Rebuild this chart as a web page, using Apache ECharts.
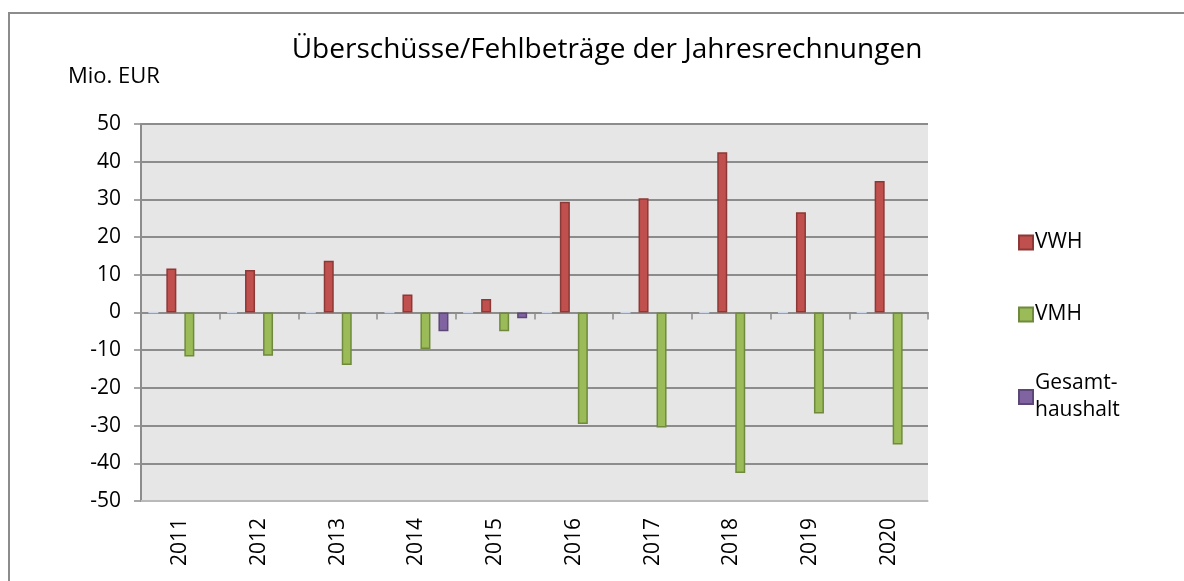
<!DOCTYPE html>
<html>
<head>
<meta charset="utf-8">
<script src="https://cdn.jsdelivr.net/npm/echarts@6/dist/echarts.min.js"></script>
<style>
  html, body { margin: 0; padding: 0; background: #fff; }
  #chart { width: 1184px; height: 581px; }
</style>
</head>
<body>
<div id="chart"></div>
<script>
const years = ['2011', '2012', '2013', '2014', '2015', '2016', '2017', '2018', '2019', '2020'];
const vwh = [11.7, 11.3, 13.7, 4.8, 3.6, 29.4, 30.3, 42.5, 26.6, 34.9];
const vmh = [-11.7, -11.5, -13.9, -9.7, -5.0, -29.6, -30.5, -42.6, -26.8, -35.0];
const gesamt = [null, null, null, -5.0, -1.5, null, null, null, null, null];
const blank = [0, 0, 0, 0, 0, 0, 0, 0, 0, 0];

const font = 'Open Sans';

const chart = echarts.init(document.getElementById('chart'));

const barSeries = (name, data, fill, border) => ({
    name: name,
    type: 'bar',
    data: data,
    barWidth: 10,
    barGap: '80%',
    itemStyle: { color: fill, borderColor: border, borderWidth: 1.5 },
    animation: false,
});

const option = {
    animation: false,
    textStyle: { fontFamily: font },
    title: {
        text: 'Überschüsse/Fehlbeträge der Jahresrechnungen',
        left: 602,
        textAlign: 'center',
        top: 31,
        textStyle: { fontFamily: font, fontSize: 28, fontWeight: 'normal', color: '#000' },
    },
    graphic: [
        {
            type: 'text', left: 68, top: 66,
            style: { text: 'Mio. EUR', font: '22px "Open Sans"', fill: '#000' },
        },
        {
            type: 'polyline', silent: true,
            shape: { points: [[9, 581], [9, 13], [1184, 13]] },
            style: { stroke: '#8c8c8c', lineWidth: 2, fill: null },
        },
    ],
    legend: {
        orient: 'vertical',
        left: 1013,
        top: 224,
        itemWidth: 14,
        itemHeight: 14,
        itemGap: 45,
        icon: 'rect',
        textStyle: { fontFamily: font, fontSize: 21, color: '#000', padding: [0, 0, 0, -3], lineHeight: 27 },
        data: [
            'VWH',
            'VMH',
            { name: 'Gesamt-\nhaushalt', textStyle: { padding: [0, 0, -27, -3] } },
        ],
    },
    grid: { left: 141, right: 256, top: 124, bottom: 80, show: true, backgroundColor: '#e6e6e6', borderWidth: 0 },
    xAxis: [
        {
            type: 'category',
            data: years,
            position: 'bottom',
            axisLine: { show: true, onZero: false, lineStyle: { color: '#c8c8c8', width: 1.5 } },
            axisTick: { show: false },
            axisLabel: { rotate: 90, fontFamily: font, fontSize: 21, color: '#000', margin: 17 },
        },
        {
            type: 'category',
            data: years,
            position: 'bottom',
            axisLine: { show: true, onZero: true, lineStyle: { color: '#8c8c8c', width: 2 } },
            axisTick: { show: true, length: 7, inside: false, lineStyle: { color: '#8c8c8c', width: 1.5 } },
            axisLabel: { show: false },
        },
    ],
    yAxis: {
        type: 'value',
        min: -50,
        max: 50,
        interval: 10,
        axisLine: { show: true, lineStyle: { color: '#8c8c8c', width: 2 } },
        axisTick: { show: true, length: 7, lineStyle: { color: '#8c8c8c', width: 1.5 } },
        axisLabel: { fontFamily: font, fontSize: 21, color: '#000', margin: 20 },
        splitLine: { lineStyle: { color: '#8c8c8c', width: 2 } },
    },
    series: [
        Object.assign(barSeries('', blank, '#cfd8e8', '#cfd8e8'), { legendHoverLink: false }),
        barSeries('VWH', vwh, '#c0504d', '#8c3836'),
        barSeries('VMH', vmh, '#9bbb59', '#6f8a3c'),
        barSeries('Gesamt-\nhaushalt', gesamt, '#8064a2', '#5c4776'),
    ],
};

chart.setOption(option);
</script>
</body>
</html>
